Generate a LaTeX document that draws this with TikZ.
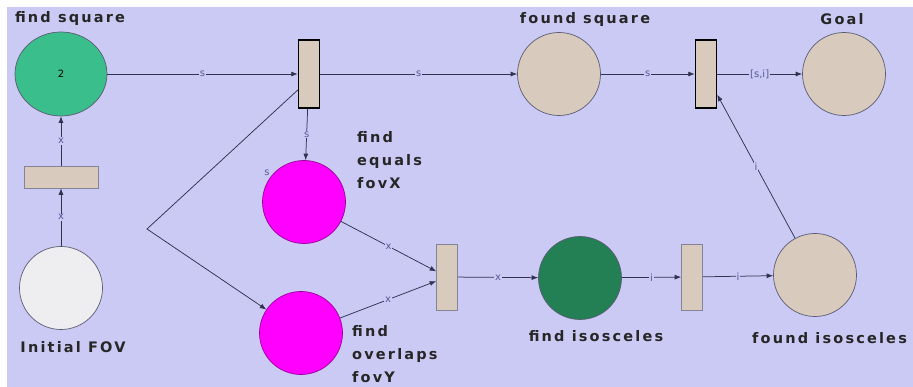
\documentclass[tikz,border=0pt]{standalone}
\usepackage{fontspec}
\setmainfont{DejaVu Sans}
\newfontfamily\placefont{DejaVu Sans}[LetterSpace=15]
\usepackage{xcolor}
\usetikzlibrary{arrows.meta, shapes.geometric, positioning, calc}

\definecolor{bglav}{RGB}{202,202,244}
\definecolor{placetan}{RGB}{216,202,188}
\definecolor{sqgreen}{RGB}{58,190,140}
\definecolor{isogreen}{RGB}{34,128,84}
\definecolor{fovgray}{RGB}{238,238,240}
\definecolor{fuchsia}{RGB}{255,0,255}
\definecolor{arcink}{RGB}{50,50,80}
\definecolor{lblink}{RGB}{90,90,150}

\begin{document}
\begin{tikzpicture}[x=1pt, y=-1pt,
    place/.style={circle, draw=arcink!80, line width=0.7pt, minimum size=83pt, inner sep=0pt},
    trans/.style={rectangle, draw=arcink!60, fill=placetan, line width=0.6pt, inner sep=0pt,
        minimum width=21pt, minimum height=68pt},
    hot/.style={draw=black, line width=1.4pt},
    flow/.style={draw=arcink, line width=0.75pt, -{Latex[length=6.5pt,width=5pt]}},
    arclbl/.style={fill=bglav, inner sep=0.8pt, text=lblink, font=\fontsize{10}{11}\selectfont},
    plabel/.style={text=black!85, inner sep=0pt, font=\placefont\bfseries\fontsize{14.5}{23}\selectfont}]

    % canvas
    \useasboundingbox (0,0) rectangle (913,387);
    \fill[white] (0,0) rectangle (913,387);
    \fill[bglav] (7,7) rectangle (913,387);

    % places and transitions
    \node[place, ellipse, fill=sqgreen, minimum width=92pt, minimum height=84pt] (findsq) at (61,74) {\fontsize{10}{10}\selectfont 2};
    \node[trans, hot] (t1) at (309,74) {};
    \node[place, fill=placetan] (foundsq) at (559,74) {};
    \node[trans, hot] (t2) at (706,74) {};
    \node[place, fill=placetan] (goal) at (844,74) {};
    \node[trans, minimum width=74pt, minimum height=22pt] (t0) at (61,177) {};
    \node[place, fill=fovgray] (initfov) at (61,288) {};
    \node[place, fill=fuchsia, draw=fuchsia!60!black] (eqx) at (304,202) {};
    \node[place, fill=fuchsia, draw=fuchsia!60!black] (ovy) at (301,333) {};
    \node[trans, minimum height=66pt] (t3) at (447,277) {};
    \node[place, fill=isogreen] (findiso) at (580,278) {};
    \node[trans, minimum height=66pt] (t4) at (692,277) {};
    \node[place, fill=placetan] (foundiso) at (815,275) {};
    \coordinate (split) at (147,229);

    % names
    \node[plabel] (findsqlbl) at (70,19) {find square};
    \node[plabel] (foundsqlbl) at (585,20) {found square};
    \node[plabel] (goallbl) at (842,19) {Goal};
    \node[plabel] (initlbl) at (73,347) {Initial FOV};
    \node[plabel, anchor=north west, align=left] (eqxlbl) at (357,131) {find\\equals\\fovX};
    \node[plabel, anchor=north west, align=left] (ovylbl) at (352,325) {find\\overlaps\\fovY};
    \node[plabel] (isolbl) at (596,336) {find isosceles};
    \node[plabel, anchor=west] (foundisolbl) at (752,338) {found isosceles};
    \node[arclbl, fill=none] (mark) at (267,173) {s};

    % arcs
    \draw[flow] (findsq) -- node[arclbl] (a1) {s} (t1);
    \draw[flow] (t1) -- node[arclbl] (a2) {s} (foundsq);
    \draw[flow] (foundsq) -- node[arclbl] (a3) {s} (t2);
    \draw[flow] (t2) -- node[arclbl] (a4) {[s,i]} (goal);
    \draw[flow] (t0) -- node[arclbl] (a5) {x} (findsq);
    \draw[flow] (initfov) -- node[arclbl] (a6) {x} (t0);
    \draw[flow] (t1) -- node[arclbl] (a7) {s} (eqx);
    \draw[flow] (t1.235) -- (split) -- (ovy);
    \draw[flow] (eqx) -- node[arclbl] (a8) {x} (t3);
    \draw[flow] (ovy) -- node[arclbl] (a9) {x} (t3);
    \draw[flow] (t3) -- node[arclbl] (a10) {x} (findiso);
    \draw[flow] (findiso) -- node[arclbl] (a11) {i} (t4);
    \draw[flow] (t4) -- node[arclbl] (a12) {i} (foundiso);
    \draw[flow] (foundiso) -- node[arclbl] (a13) {i} (t2);

\end{tikzpicture}
\end{document}
